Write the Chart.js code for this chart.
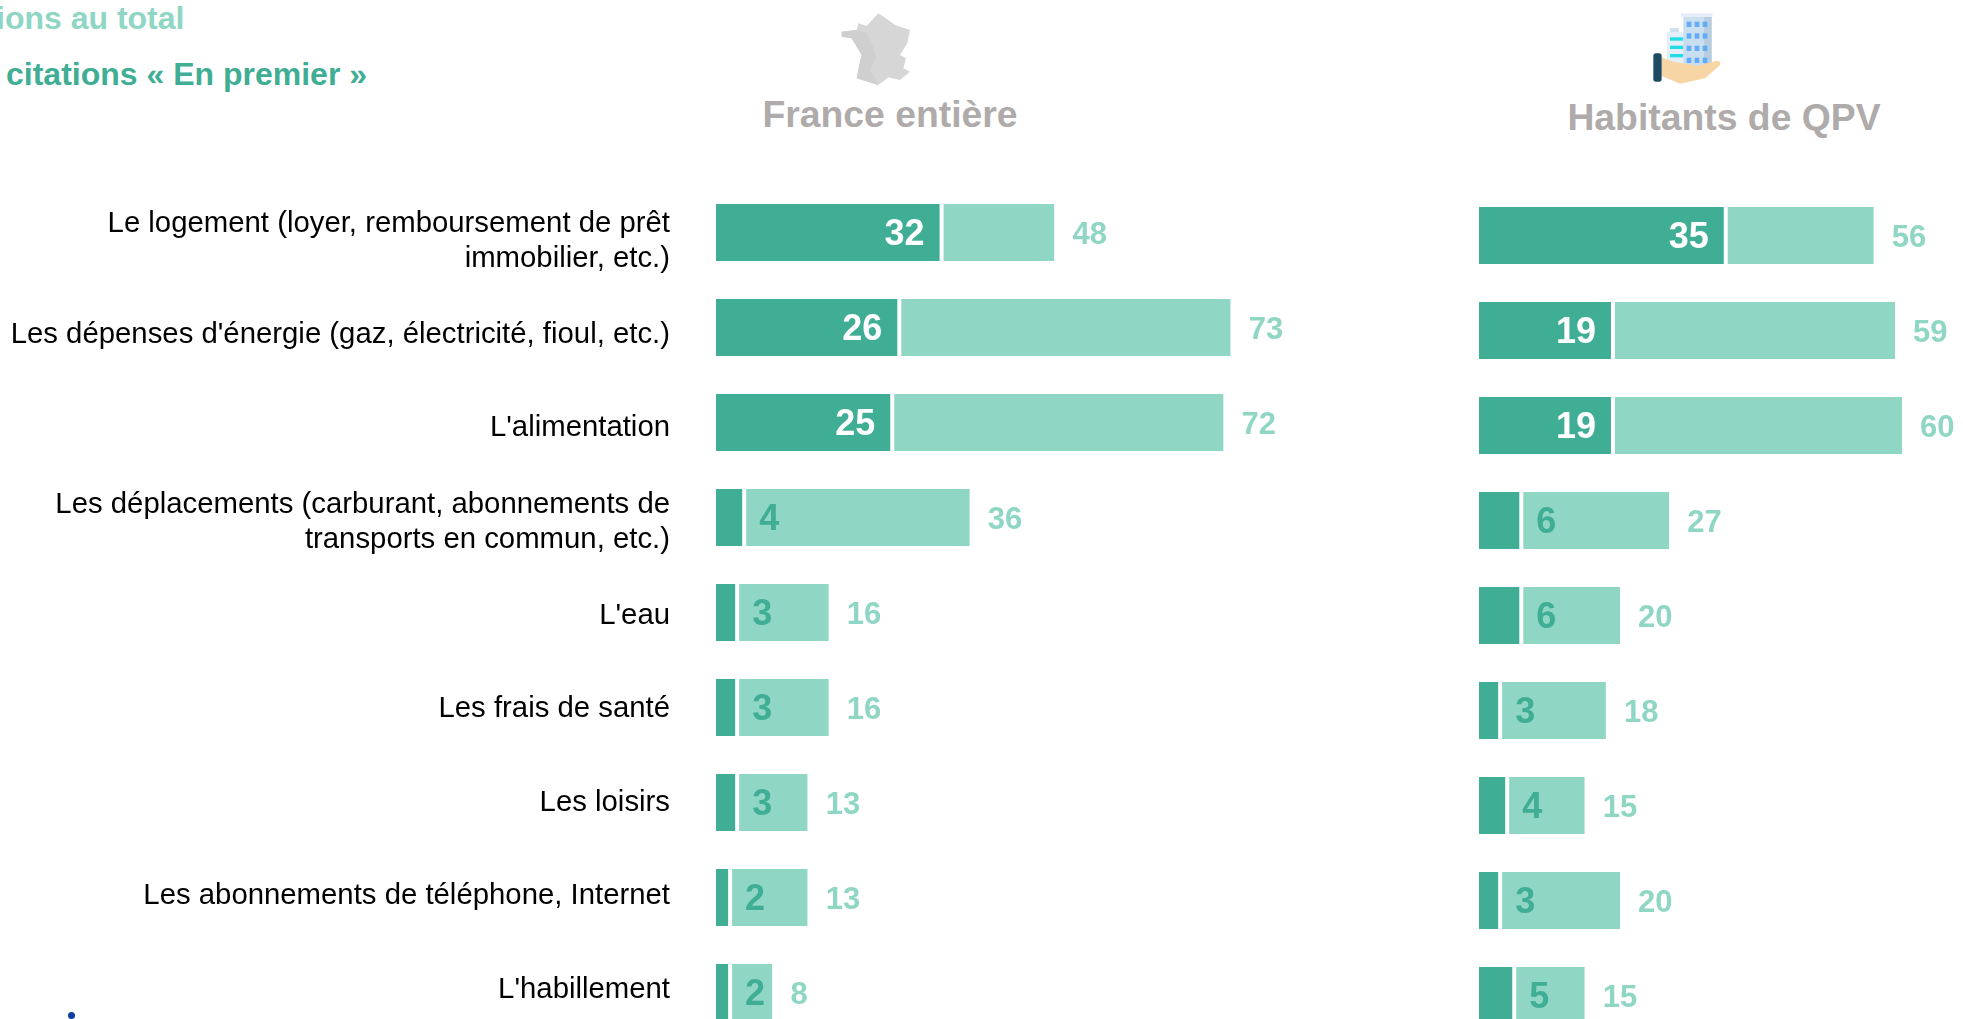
<!DOCTYPE html>
<html lang="fr">
<head>
  <meta charset="UTF-8">
  <title>Postes de dépenses</title>
  <script src="https://cdn.jsdelivr.net/npm/chart.js"></script>
  <style>
    html, body { margin: 0; padding: 0; background: #fff; overflow: hidden; width: 1963px; height: 1019px; }
    body { position: relative; font-family: "Liberation Sans", Arial, sans-serif; }
    canvas, svg, .txt, #dot { position: absolute; }
    .txt { font-weight: bold; white-space: nowrap; line-height: 1; }
    .leg1 { color: #8FD6C5; font-size: 32px; left: -4px; top: 2px; }
    .leg2 { color: #3FAE94; font-size: 32px; left: 6px; top: 58px; }
    .head { color: #AFABAB; font-size: 37.33px; transform: translateX(-50%); }
    #dot { left: 67.5px; top: 1011.5px; width: 7px; height: 7px; border-radius: 50%; background: #0F3FA0; }
  </style>
</head>
<body>

<div class="txt leg1">ions au total</div>
<div class="txt leg2">citations « En premier »</div>
<div class="txt head" style="left:890px;top:96px">France entière</div>
<div class="txt head" style="left:1724px;top:99px">Habitants de QPV</div>
<div id="dot"></div>

<!-- carte de France -->
<svg style="left:820px;top:0" width="220" height="140" viewBox="0 0 660 420">
  <polygon fill="#D6D6D6" points="175,40 205,60 225,75 270,90 262,130 240,165 258,175 250,205 270,215 240,240 205,232 175,255 110,235 120,185 125,165 95,115 65,110 65,95 110,90 115,70 140,78"/>
  <polygon fill="#CFCFCF" points="110,90 140,100 160,140 168,175 150,210 165,235 175,255 110,235 120,185 125,165 95,115 65,110 65,95"/>
</svg>

<!-- immeubles dans la main -->
<svg style="left:1630px;top:0" width="120" height="100" viewBox="0 0 360 300">
  <rect x="120" y="84" width="27" height="14" fill="#CFE0EE"/>
  <rect x="110" y="97" width="52" height="95" fill="#E3EEF8"/>
  <rect x="120" y="112" width="40" height="10" fill="#22DDE5"/>
  <rect x="120" y="137" width="40" height="10" fill="#22DDE5"/>
  <rect x="120" y="162" width="40" height="10" fill="#22DDE5"/>
  <rect x="160" y="50" width="85" height="160" fill="#C9DFF0"/>
  <rect x="222" y="50" width="23" height="150" fill="#B8CEDF"/>
  <rect x="153" y="40" width="95" height="11" fill="#E3EEF8"/>
  <g fill="#62ABF8">
    <rect x="170" y="65" width="14" height="16"/><rect x="194" y="65" width="14" height="16"/><rect x="218" y="65" width="14" height="16"/>
    <rect x="170" y="100" width="14" height="16"/><rect x="194" y="100" width="14" height="16"/><rect x="218" y="100" width="14" height="16"/>
    <rect x="170" y="137" width="14" height="16"/><rect x="194" y="137" width="14" height="16"/><rect x="218" y="137" width="14" height="16"/>
    <rect x="170" y="173" width="14" height="16"/><rect x="194" y="173" width="14" height="16"/><rect x="218" y="173" width="14" height="16"/>
  </g>
  <path fill="#F8D5A5" d="M95 172 L130 185 L205 197 L258 183 Q275 182 270 195 L225 235 L150 251 L95 228 Z"/>
  <rect x="70" y="160" width="25" height="85" rx="8" fill="#1F4A63"/>
</svg>

<canvas id="franceChart" width="1300" height="855" style="left:0;top:185px"></canvas>
<canvas id="qpvChart" width="484" height="855" style="left:1479px;top:188px"></canvas>

<script>
const categories = [
  ["Le logement (loyer, remboursement de prêt", "immobilier, etc.)"],
  "Les dépenses d'énergie (gaz, électricité, fioul, etc.)",
  "L'alimentation",
  ["Les déplacements (carburant, abonnements de", "transports en commun, etc.)"],
  "L'eau",
  "Les frais de santé",
  "Les loisirs",
  "Les abonnements de téléphone, Internet",
  "L'habillement"
];
const franceFirst = [32, 26, 25, 4, 3, 3, 3, 2, 2];
const franceTotal = [48, 73, 72, 36, 16, 16, 13, 13, 8];
const qpvFirst = [35, 19, 19, 6, 6, 3, 4, 3, 5];
const qpvTotal = [56, 59, 60, 27, 20, 18, 15, 20, 15];

const DARK = "#3FAE94";
const LIGHT = "#8FD6C5";
const FONT = '"Liberation Sans", Arial, sans-serif';

// valeurs écrites sur les barres et à droite
const barLabels = {
  id: "barLabels",
  afterDatasetsDraw(chart, args, opts) {
    const ctx = chart.ctx;
    const dark = chart.getDatasetMeta(0).data;
    const light = chart.getDatasetMeta(1).data;
    ctx.save();
    ctx.textBaseline = "middle";
    dark.forEach((bar, i) => {
      const first = opts.first[i];
      const y = bar.y + 3;
      ctx.font = "bold 36px " + FONT;
      if (first >= 10) {
        ctx.fillStyle = "#fff";
        ctx.textAlign = "right";
        ctx.fillText(first, bar.x - 17, y);
      } else {
        ctx.fillStyle = DARK;
        ctx.textAlign = "left";
        ctx.fillText(first, bar.x + 15, y);
      }
      ctx.font = "bold 31px " + FONT;
      ctx.fillStyle = LIGHT;
      ctx.textAlign = "left";
      ctx.fillText(opts.total[i], light[i].x + 18, y);
    });
    ctx.restore();
  }
};

function makeChart(id, first, total, xMax, extraScales) {
  return new Chart(document.getElementById(id), {
    type: "bar",
    plugins: [barLabels],
    data: {
      labels: categories,
      datasets: [
        { label: "« En premier »", data: first, backgroundColor: DARK, borderColor: "#fff",
          borderWidth: { right: 2 } },
        { label: "Au total", data: total.map((t, i) => t - first[i]), backgroundColor: LIGHT, borderColor: "#fff",
          borderWidth: { left: 2 } }
      ]
    },
    options: {
      indexAxis: "y",
      responsive: false,
      animation: false,
      layout: { padding: 0, autoPadding: false },
      datasets: { bar: { categoryPercentage: 1, barPercentage: 0.6, borderSkipped: false, inflateAmount: 0 } },
      plugins: {
        legend: { display: false },
        title: { display: false },
        tooltip: { enabled: false },
        barLabels: { first: first, total: total }
      },
      scales: Object.assign({
        x: { stacked: true, display: false, min: 0, max: xMax },
        y: { stacked: true, display: false, grid: { display: false } }
      }, extraScales || {})
    }
  });
}

// les libellés n'ont pas tout à fait le même pas que les barres : axe à part
const labelAxis = {
  yLabels: {
    type: "linear",
    position: "left",
    reverse: true,
    offset: false,
    bounds: "data",
    min: -0.6,
    max: 8.535,
    grid: { display: false, drawTicks: false },
    border: { display: false },
    afterBuildTicks(scale) { scale.ticks = categories.map((c, i) => ({ value: i })); },
    afterFit(scale) {
      scale.width = 716;
      scale.paddingTop = 0;
      scale.paddingBottom = 0;
    },
    ticks: {
      autoSkip: false,
      maxRotation: 0,
      padding: 46,
      color: "#000",
      font: { family: FONT, size: 29.33, lineHeight: 35 / 29.33 },
      callback: value => categories[value]
    }
  }
};

makeChart("franceChart", franceFirst, franceTotal, 584 / 7.05, labelAxis);
makeChart("qpvChart", qpvFirst, qpvTotal, 484 / 7.05);
</script>

</body>
</html>
